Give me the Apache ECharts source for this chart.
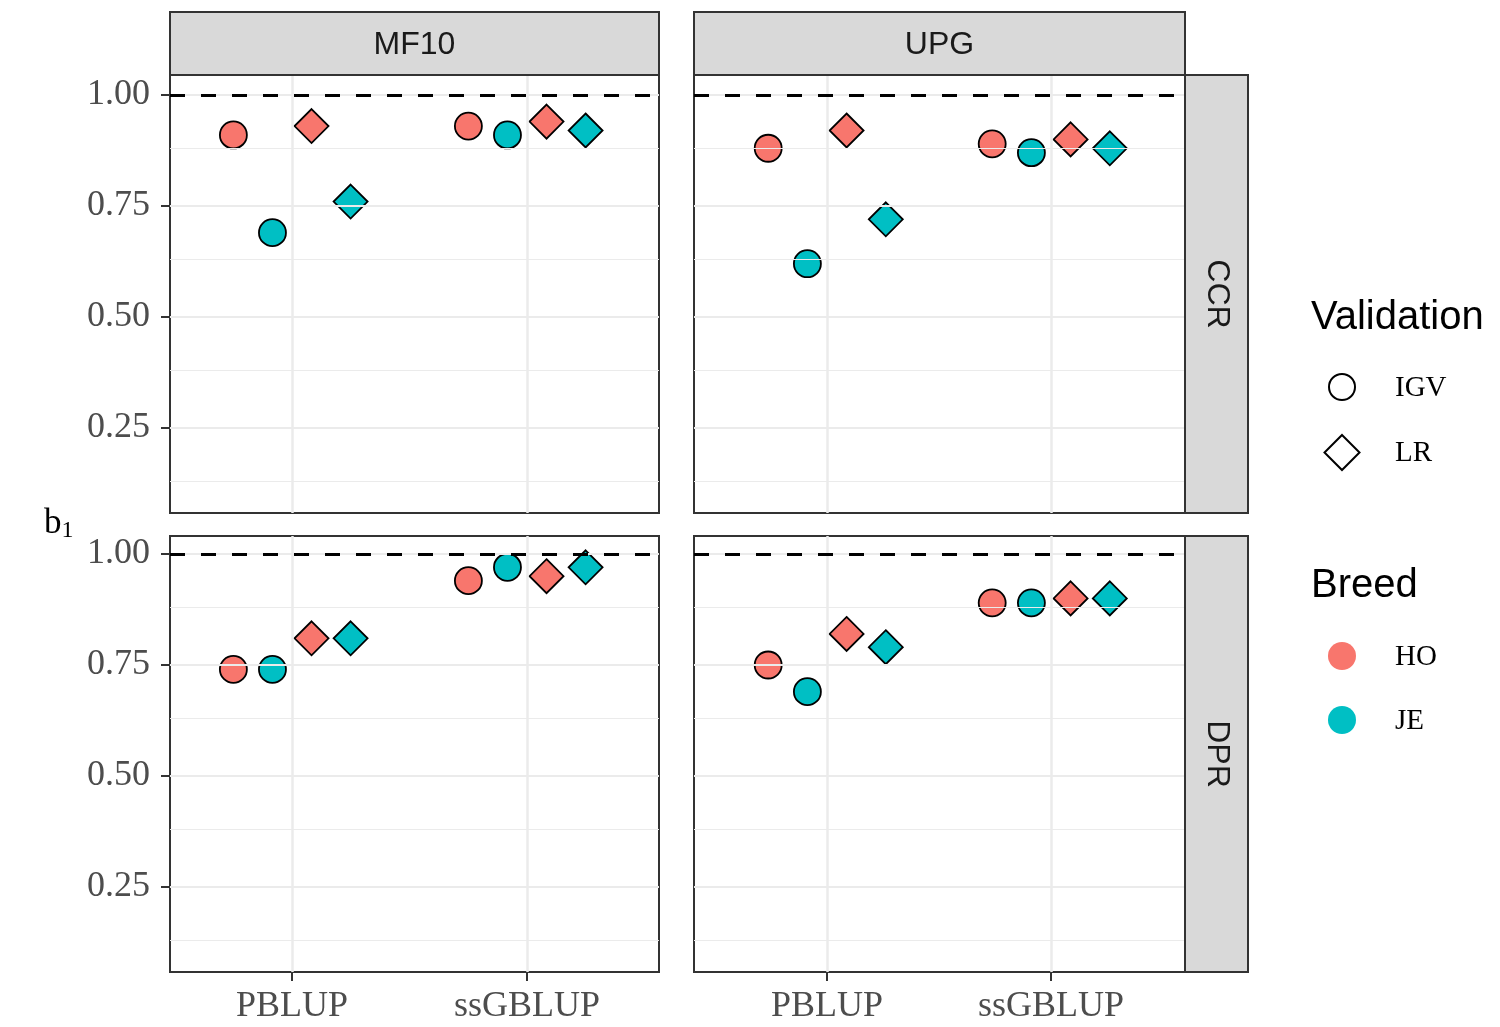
<!DOCTYPE html>
<html><head><meta charset="utf-8">
<script src="https://cdn.jsdelivr.net/npm/echarts@6/dist/echarts.min.js"></script>
<style>html,body{margin:0;padding:0;background:#fff}#c{width:1500px;height:1027px}</style>
</head><body><div id="c"></div>
<script>
// ---- data ----
const methods = ['PBLUP', 'ssGBLUP'];
const groups = ['HO-IGV', 'JE-IGV', 'HO-LR', 'JE-LR'];
const groupBreed = ['HO', 'JE', 'HO', 'JE'];
const groupValidation = ['IGV', 'IGV', 'LR', 'LR'];
const facetCols = ['MF10', 'UPG'];
const facetRows = ['CCR', 'DPR'];
const legendValidation = ['IGV', 'LR'];
const legendBreed = ['HO', 'JE'];
const yTicks = [0.25, 0.50, 0.75, 1.00];
const yMinor = [0.125, 0.375, 0.625, 0.875];
const refLine = 1.0;
// rows = groups (HO-IGV, JE-IGV, HO-LR, JE-LR); cols = methods (PBLUP, ssGBLUP)
const MF10_CCR = [[0.91, 0.93], [0.69, 0.91], [0.93, 0.94], [0.76, 0.92]];
const UPG_CCR  = [[0.88, 0.89], [0.62, 0.87], [0.92, 0.90], [0.72, 0.88]];
const MF10_DPR = [[0.74, 0.94], [0.74, 0.97], [0.81, 0.95], [0.81, 0.97]];
const UPG_DPR  = [[0.75, 0.89], [0.69, 0.89], [0.82, 0.90], [0.79, 0.90]];

// ---- styles / layout ----
const breedColor = { HO: '#F8766D', JE: '#00BFC4' };
const valSymbol = { IGV: 'circle', LR: 'diamond' };
const valSize = { IGV: 27, LR: 34 };
const dodgeFrac = [-0.375, -0.125, 0.125, 0.375];
const SERIF = 'Liberation Serif';
const SANS = 'Liberation Sans';

const panels = [
  { data: MF10_CCR, left: 170, top: 75, width: 489, height: 438, xMin: 0.4809, xMax: 2.5617, yMax: 1.045, dodge: 0.665, showX: false, showY: true },
  { data: UPG_CCR,  left: 694, top: 75, width: 491, height: 438, xMin: 0.4063, xMax: 2.5982, yMax: 1.045, dodge: 0.7, showX: false, showY: false },
  { data: MF10_DPR, left: 170, top: 536, width: 489, height: 436, xMin: 0.4809, xMax: 2.5617, yMax: 1.0405, dodge: 0.665, showX: true, showY: true },
  { data: UPG_DPR,  left: 694, top: 536, width: 491, height: 436, xMin: 0.4063, xMax: 2.5982, yMax: 1.0405, dodge: 0.7, showX: true, showY: false }
];
const yMin = 0.0586;

const grids = [], xAxes = [], yAxes = [], series = [];
const tickStyle = { color: '#333333', width: 2 };

panels.forEach((p, i) => {
  grids.push({ left: p.left, top: p.top, width: p.width, height: p.height, show: true,
    backgroundColor: '#fff', borderColor: '#333333', borderWidth: 2, outerBoundsMode: 'none', containLabel: false });
  xAxes.push({ type: 'value', gridIndex: i, min: p.xMin, max: p.xMax,
    axisLine: { show: false }, splitLine: { show: false },
    axisTick: { show: p.showX, customValues: [1, 2], length: 9, lineStyle: tickStyle },
    axisLabel: { show: p.showX, customValues: [1, 2], formatter: v => methods[Math.round(v) - 1],
      fontFamily: SERIF, fontSize: 36, color: '#4D4D4D', margin: 17 } });
  yAxes.push({ type: 'value', gridIndex: i, min: yMin, max: p.yMax,
    axisLine: { show: false }, splitLine: { show: false },
    axisTick: { show: p.showY, customValues: yTicks, length: 9, lineStyle: tickStyle },
    axisLabel: { show: p.showY, customValues: yTicks, formatter: v => v.toFixed(2),
      fontFamily: SERIF, fontSize: 36, color: '#4D4D4D', margin: 20, padding: [5, 0, 0, 0] } });

  // grid lines
  series.push({ type: 'scatter', xAxisIndex: i, yAxisIndex: i, data: [], silent: true, z: 1,
    markLine: { silent: true, symbol: ['none', 'none'], label: { show: false }, animation: false,
      lineStyle: { type: 'solid', color: '#EBEBEB' }, emphasis: { disabled: true },
      data: [
        ...yMinor.map(v => ({ yAxis: v, lineStyle: { width: 1, type: 'solid', color: '#EBEBEB' } })),
        ...yTicks.map(v => ({ yAxis: v, lineStyle: { width: 2, type: 'solid', color: '#EBEBEB' } })),
        ...[1, 2].map(v => ({ xAxis: v, lineStyle: { width: 2.5, type: 'solid', color: '#EBEBEB' } }))
      ] } });
  // reference line
  series.push({ type: 'scatter', xAxisIndex: i, yAxisIndex: i, data: [], silent: true, z: 2,
    markLine: { silent: true, symbol: ['none', 'none'], label: { show: false }, animation: false,
      emphasis: { disabled: true },
      data: [{ yAxis: refLine, lineStyle: { width: 3, color: '#000', type: [15, 16] } }] } });

  groups.forEach((g, gi) => {
    const b = groupBreed[gi], v = groupValidation[gi];
    series.push({ type: 'scatter', name: g, xAxisIndex: i, yAxisIndex: i, z: 3,
      symbol: valSymbol[v], symbolSize: valSize[v],
      itemStyle: { color: breedColor[b], borderColor: '#000', borderWidth: 1.8, opacity: 1 },
      emphasis: { disabled: true },
      data: methods.map((m, j) => [j + 1 + dodgeFrac[gi] * p.dodge, p.data[gi][j]]) });
  });
});

// strips, legend, axis title
const graphics = [];
const stripStyle = { fill: '#D9D9D9', stroke: '#333333', lineWidth: 2 };
[[170, 489], [694, 491]].forEach((c, k) => {
  graphics.push({ type: 'rect', shape: { x: c[0], y: 12, width: c[1], height: 63 }, style: stripStyle, z: 10 });
  graphics.push({ type: 'text', x: c[0] + c[1] / 2, y: 45, z: 11,
    style: { text: facetCols[k], font: '32px ' + SANS, fill: '#1A1A1A', align: 'center', verticalAlign: 'middle' } });
});
[[75, 438], [536, 436]].forEach((r, k) => {
  graphics.push({ type: 'rect', shape: { x: 1185, y: r[0], width: 63, height: r[1] }, style: stripStyle, z: 10 });
  graphics.push({ type: 'text', x: 1217, y: r[0] + r[1] / 2, rotation: -Math.PI / 2, z: 11,
    style: { text: facetRows[k], font: '32px ' + SANS, fill: '#1A1A1A', align: 'center', verticalAlign: 'middle' } });
});
// y axis title b1
graphics.push({ type: 'text', x: 44, y: 524, z: 11,
  style: { text: '{b|b}{s|1}', verticalAlign: 'middle',
    rich: { b: { fontFamily: SERIF, fontSize: 35, fill: '#000', color: '#000' },
            s: { fontFamily: SERIF, fontSize: 24, fill: '#000', color: '#000', padding: [14, 0, 0, 0] } } } });
// legend: Validation
graphics.push({ type: 'text', x: 1311, y: 318, style: { text: 'Validation', font: '40px ' + SANS, fill: '#000', verticalAlign: 'middle' } });
graphics.push({ type: 'circle', shape: { cx: 1342, cy: 387, r: 13 }, style: { fill: '#fff', stroke: '#000', lineWidth: 2 } });
graphics.push({ type: 'polygon', shape: { points: [[1342, 435], [1359.5, 452.5], [1342, 470], [1324.5, 452.5]] }, style: { fill: '#fff', stroke: '#000', lineWidth: 2 } });
graphics.push({ type: 'text', x: 1395, y: 388, style: { text: legendValidation[0], font: '29px ' + SERIF, fill: '#000', verticalAlign: 'middle' } });
graphics.push({ type: 'text', x: 1395, y: 453, style: { text: legendValidation[1], font: '29px ' + SERIF, fill: '#000', verticalAlign: 'middle' } });
// legend: Breed
graphics.push({ type: 'text', x: 1311, y: 586, style: { text: 'Breed', font: '40px ' + SANS, fill: '#000', verticalAlign: 'middle' } });
graphics.push({ type: 'circle', shape: { cx: 1342, cy: 656, r: 14 }, style: { fill: breedColor.HO } });
graphics.push({ type: 'circle', shape: { cx: 1342, cy: 720, r: 14 }, style: { fill: breedColor.JE } });
graphics.push({ type: 'text', x: 1395, y: 657, style: { text: legendBreed[0], font: '29px ' + SERIF, fill: '#000', verticalAlign: 'middle' } });
graphics.push({ type: 'text', x: 1395, y: 721, style: { text: legendBreed[1], font: '29px ' + SERIF, fill: '#000', verticalAlign: 'middle' } });

const chart = echarts.init(document.getElementById('c'), null, { renderer: 'canvas' });
chart.setOption({
  animation: false,
  backgroundColor: '#fff',
  grid: grids, xAxis: xAxes, yAxis: yAxes, series: series,
  graphic: graphics
});
</script></body></html>
